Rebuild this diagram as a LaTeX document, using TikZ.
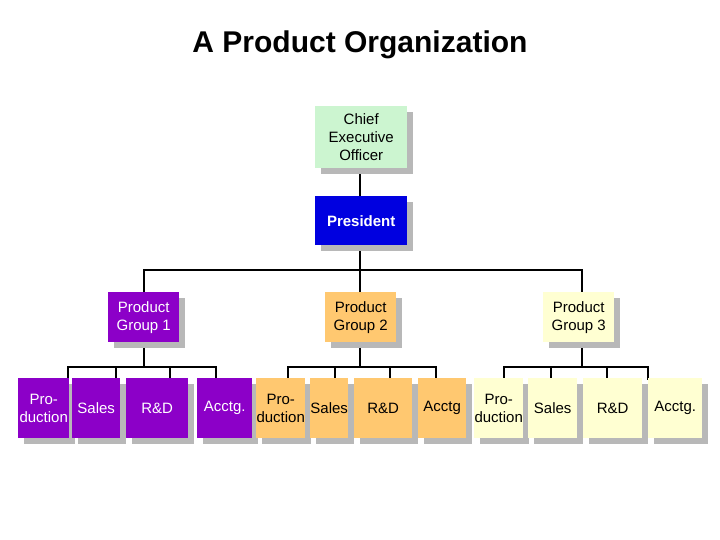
\documentclass[tikz,border=0pt]{standalone}
\usepackage{fontspec}
\setmainfont{Liberation Sans}
\usetikzlibrary{shadows}
\definecolor{ceo}{HTML}{CCF5D0}
\definecolor{pres}{HTML}{0000E0}
\definecolor{purp}{HTML}{8C00C8}
\definecolor{org}{HTML}{FFC870}
\definecolor{lyel}{HTML}{FFFFD2}
\definecolor{shd}{HTML}{B8B8B8}
\tikzset{
 bx/.style={anchor=north west, inner sep=0pt, align=center, font=\fontsize{15}{18}\selectfont,
   drop shadow={shadow xshift=6pt, shadow yshift=-6pt, fill=shd, opacity=1}},
 p1/.style={bx, fill=purp, text=white},
 p2/.style={bx, fill=org},
 p3/.style={bx, fill=lyel},
 ln/.style={line width=2.2pt}
}
\newcommand{\bx}[7]{\node[#6, minimum width={#4-#2}, minimum height={#5-#3}] (#1) at (#2,#3) {#7};}
\begin{document}
\begin{tikzpicture}[x=1pt,y=-1pt]
\useasboundingbox (0,0) rectangle (720,540);
\node[font=\bfseries\fontsize{30}{34}\selectfont] (title) at (360,45) {A Product Organization};
% lines
\coordinate (b0l) at (144,270); \coordinate (b0r) at (582,270);
\coordinate (b1l) at (68,367); \coordinate (b1r) at (216,367);
\coordinate (b2l) at (288,367); \coordinate (b2r) at (436,367);
\coordinate (b3l) at (504,367); \coordinate (b3r) at (648,367);
\draw[ln] (360,168) -- (360,270);
\draw[ln] (144,292) -- (b0l) -- (b0r) -- (582,292);
\draw[ln] (360,270) -- (360,292);
\draw[ln] (144,342) -- (144,367);
\draw[ln] (360,342) -- (360,367);
\draw[ln] (582,342) -- (582,367);
\foreach \a/\b/\xs in {b1l/b1r/{68,116,170,216},b2l/b2r/{288,335,390,436},b3l/b3r/{504,551,607,648}}{
  \draw[ln] (\a) -- (\b);
  \foreach \x in \xs {\draw[ln] (\x,366) -- (\x,380);}
}
% boxes
\bx{ceo}{315}{106}{407}{168}{bx, fill=ceo}{Chief\\Executive\\Officer}
\bx{pres}{315}{196}{407}{245}{bx, fill=pres, text=white, font=\bfseries\fontsize{15}{18}\selectfont}{President}
\bx{g1}{108}{292}{179}{342}{p1}{Product\\Group 1}
\bx{g2}{325}{292}{396}{342}{p2}{Product\\Group 2}
\bx{g3}{543}{292}{614}{342}{p3}{Product\\Group 3}
\bx{a1}{18}{378}{69}{438}{p1}{Pro-\\duction}
\bx{a2}{72}{378}{120}{438}{p1}{Sales}
\bx{a3}{126}{378}{188}{438}{p1}{R\&D}
\bx{a4}{197}{378}{252}{438}{p1}{Acctg.}
\bx{c1}{256}{378}{305}{438}{p2}{Pro-\\duction}
\bx{c2}{310}{378}{348}{438}{p2}{Sales}
\bx{c3}{354}{378}{412}{438}{p2}{R\&D}
\bx{c4}{418}{378}{466}{438}{p2}{Acctg}
\bx{d1}{474}{378}{523}{438}{p3}{Pro-\\duction}
\bx{d2}{528}{378}{577}{438}{p3}{Sales}
\bx{d3}{583}{378}{642}{438}{p3}{R\&D}
\bx{d4}{648}{378}{702}{438}{p3}{Acctg.}
\end{tikzpicture}
\end{document}
